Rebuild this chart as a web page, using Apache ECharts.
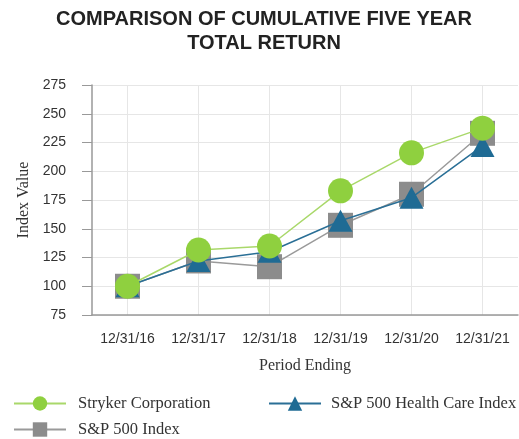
<!DOCTYPE html>
<html><head><meta charset="utf-8">
<script src="https://cdn.jsdelivr.net/npm/echarts@6/dist/echarts.min.js"></script>
<style>html,body{margin:0;padding:0;background:#fff}#c{width:519px;height:439px}</style>
</head><body><div id="c"></div>
<script>
const categories = ['12/31/16','12/31/17','12/31/18','12/31/19','12/31/20','12/31/21'];
const stryker = [100, 131.5, 135, 183, 216, 237.5];
const healthCare = [100, 122, 130, 157, 177, 222];
const sp500 = [100, 122, 117, 153, 180, 233];
const yTicks = [75, 275, 25];

const chart = echarts.init(document.getElementById('c'));
const serif = '"Liberation Serif", "DejaVu Serif", serif';
const sans = '"Liberation Sans", Arial, sans-serif';
const legText = { fontFamily: serif, fontSize: 16.5, color: '#333' };
chart.setOption({
  animation: false,
  title: {
    text: 'COMPARISON OF CUMULATIVE FIVE YEAR\nTOTAL RETURN',
    left: 264, top: 7, textAlign: 'center', padding: 0,
    textStyle: { fontFamily: sans, fontWeight: 'bold', fontSize: 20, lineHeight: 24, color: '#222' }
  },
  legend: [
    { data: ['Stryker Corporation'], left: 13, top: 395, padding: 0, itemWidth: 52, itemHeight: 18,
      textStyle: Object.assign({ padding: [0, 0, 0, 7] }, legText) },
    { data: ['S&P 500 Health Care Index'], left: 268, top: 395, padding: 0, itemWidth: 52, itemHeight: 18,
      textStyle: Object.assign({ padding: [0, 0, 0, 5] }, legText) },
    { data: ['S&P 500 Index'], left: 13, top: 421, padding: 0, itemWidth: 52, itemHeight: 18,
      textStyle: Object.assign({ padding: [0, 0, 0, 7] }, legText) }
  ],
  grid: { left: 92, right: 1, top: 85, bottom: 124 },
  xAxis: {
    type: 'category', data: categories, boundaryGap: true,
    name: 'Period Ending', nameLocation: 'middle', nameGap: 43,
    nameTextStyle: { fontFamily: serif, fontSize: 16, color: '#333' },
    axisLine: { lineStyle: { color: '#999', width: 1.5 } },
    axisTick: { alignWithLabel: true, length: 7, lineStyle: { color: '#999' } },
    axisLabel: { margin: 17, fontFamily: sans, fontSize: 14, color: '#333' },
    splitLine: { show: true, alignWithLabel: true, lineStyle: { color: '#e6e6e6' } }
  },
  yAxis: {
    type: 'value', min: yTicks[0], max: yTicks[1], interval: yTicks[2],
    name: 'Index Value', nameLocation: 'middle', nameGap: 60, nameRotate: 90,
    nameTextStyle: { fontFamily: serif, fontSize: 16, color: '#333' },
    axisLine: { show: true, lineStyle: { color: '#999', width: 1.5 } },
    axisTick: { show: true, inside: false, length: 10, lineStyle: { color: '#999' } },
    axisLabel: { margin: 26, fontFamily: sans, fontSize: 14, color: '#333' },
    splitLine: { show: true, lineStyle: { color: '#e6e6e6' } }
  },
  series: [
    { name: 'S&P 500 Index', type: 'line', data: sp500, z: 2,
      symbol: 'rect', symbolSize: 25,
      lineStyle: { color: '#9a9a9a', width: 1.5 }, itemStyle: { color: '#8c8c8c' } },
    { name: 'S&P 500 Health Care Index', type: 'line', data: healthCare, z: 3,
      symbol: 'triangle', symbolSize: [24, 22],
      lineStyle: { color: '#2a6f96', width: 1.5 }, itemStyle: { color: '#1f6b94' } },
    { name: 'Stryker Corporation', type: 'line', data: stryker, z: 4,
      symbol: 'circle', symbolSize: 25,
      lineStyle: { color: '#a9d86a', width: 1.5 }, itemStyle: { color: '#8fd03f' } }
  ]
});
</script></body></html>
